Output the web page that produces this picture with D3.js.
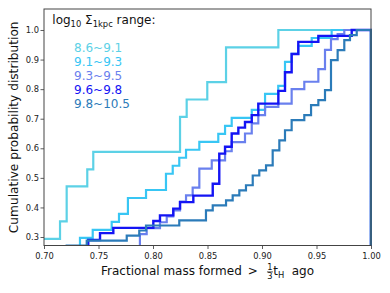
<!DOCTYPE html>
<html>
<head>
<meta charset="utf-8">
<script src="https://cdn.jsdelivr.net/npm/d3@7"></script>
<style>
  body { margin: 0; background: #fff; }
  text { font-family: 'DejaVu Sans', sans-serif; white-space: pre; }
</style>
</head>
<body>
<svg id="chart" width="390" height="293"></svg>
<script>
// log10 Sigma_1kpc bins
var categories = ['8.6~9.1', '9.1~9.3', '9.3~9.5', '9.6~9.8', '9.8~10.5'];
var colors = ['#5cd1e6', '#38c6f4', '#6a80ee', '#1414f4', '#2b7bb9'];

var xTicks = [0.70, 0.75, 0.80, 0.85, 0.90, 0.95, 1.00];
var yTicks = [0.3, 0.4, 0.5, 0.6, 0.7, 0.8, 0.9, 1.0];

// step edges (fractional mass) and cumulative fraction after each step
var s1Edges = [0.690, 0.7147, 0.7208, 0.7397, 0.7452, 0.8248, 0.8309, 0.8498, 0.8670, 0.9150];
var s1Cum   = [0.294, 0.353, 0.471, 0.529, 0.588, 0.706, 0.765, 0.824, 0.941, 1.0];

var s2Edges = [0.733, 0.7447, 0.7621, 0.7688, 0.777, 0.7936, 0.8119, 0.8181, 0.8241, 0.8303, 0.8425, 0.8599,
               0.8661, 0.8722, 0.8906, 0.9028, 0.9149, 0.9211, 0.9272, 0.9333, 0.9456, 0.9639];
var s2Cum   = [0.297, 0.324, 0.351, 0.378, 0.432, 0.459, 0.514, 0.541, 0.568, 0.595, 0.622, 0.649,
               0.676, 0.703, 0.730, 0.784, 0.811, 0.892, 0.919, 0.946, 0.973, 1.0];

var s3Edges = [0.788, 0.7942, 0.8064, 0.8126, 0.8186, 0.8248, 0.8303, 0.8364, 0.8425, 0.8539, 0.8661, 0.8722,
               0.8844, 0.8906, 0.8966, 0.9028, 0.915, 0.9272, 0.9388, 0.9517, 0.9578, 0.9633, 0.9694, 0.9755];
var s3Cum   = [0.31, 0.33, 0.35, 0.37, 0.39, 0.42, 0.441, 0.467, 0.531, 0.559, 0.59, 0.621,
               0.65, 0.684, 0.712, 0.74, 0.751, 0.80, 0.825, 0.868, 0.933, 0.969, 0.986, 1.0];

var s4Edges = [0.7406, 0.7514, 0.7636, 0.8003, 0.8064, 0.8186, 0.8248, 0.837, 0.8548, 0.8608, 0.8661,
               0.8722, 0.8783, 0.8844, 0.8906, 0.8966, 0.915, 0.9211, 0.9272, 0.9333, 0.9517, 0.9823];
var s4Cum   = [0.29, 0.313, 0.331, 0.354, 0.373, 0.396, 0.418, 0.44, 0.48, 0.582, 0.605,
               0.65, 0.67, 0.689, 0.712, 0.751, 0.794, 0.857, 0.919, 0.96, 0.98, 1.0];

var s5Edges = [0.7208, 0.7392, 0.7759, 0.7874, 0.7936, 0.8241, 0.8486, 0.8548, 0.867, 0.8731, 0.8792, 0.8853,
               0.8915, 0.8975, 0.9037, 0.9098, 0.9159, 0.9211, 0.9272, 0.9388, 0.945, 0.9517, 0.9578, 0.9633,
               0.9694, 0.9755, 0.9807, 0.9869];
var s5Cum   = [0.271, 0.288, 0.305, 0.322, 0.339, 0.356, 0.390, 0.407, 0.424, 0.441, 0.458, 0.475,
               0.508, 0.525, 0.542, 0.593, 0.627, 0.661, 0.695, 0.712, 0.746, 0.763, 0.797, 0.898,
               0.932, 0.966, 0.983, 1.0];

var edges = [s1Edges, s2Edges, s3Edges, s4Edges, s5Edges];
var cums = [s1Cum, s2Cum, s3Cum, s4Cum, s5Cum];

var svg = d3.select('#chart');

var x = d3.scaleLinear().domain([0.70, 1.00]).range([44, 371]);
var y = d3.scaleLinear().domain([0.2713, 1.071]).range([245.5, 9]);

svg.append('clipPath')
  .attr('id', 'plotclip')
  .append('rect')
  .attr('x', 44).attr('y', 9)
  .attr('width', 328).attr('height', 236.5);

var line = d3.line()
  .x(function(d) { return x(d[0]); })
  .y(function(d) { return y(d[1]); })
  .curve(d3.curveStepAfter);

// cumulative step histograms, closed down to zero at both ends like matplotlib
var lines = svg.append('g').attr('clip-path', 'url(#plotclip)');
categories.forEach(function(c, i) {
  var pts = [[edges[i][0], 0]];
  edges[i].forEach(function(e, j) { pts.push([e, cums[i][j]]); });
  pts.push([1.0, 1.0]);
  pts.push([1.0, 0]);
  lines.append('path')
    .attr('d', line(pts))
    .attr('fill', 'none')
    .attr('stroke', colors[i])
    .attr('stroke-width', i === 3 ? 2.4 : 2.2)
    .attr('stroke-linejoin', 'miter');
});

// axes
var xAxis = svg.append('g')
  .attr('transform', 'translate(0,245.5)')
  .call(d3.axisBottom(x).tickValues(xTicks).tickFormat(d3.format('.2f')).tickSize(3.5).tickPadding(3.9));
var yAxis = svg.append('g')
  .attr('transform', 'translate(44,0)')
  .call(d3.axisLeft(y).tickValues(yTicks).tickFormat(d3.format('.1f')).tickSize(3.5).tickPadding(1.5));

[xAxis, yAxis].forEach(function(a) {
  a.select('.domain').remove();
  a.selectAll('line').attr('stroke', '#333').attr('stroke-width', 0.8);
  a.selectAll('text')
    .attr('font-size', 8.3)
    .attr('fill', '#222')
    .style('font-family', "'DejaVu Sans', sans-serif");
});

// frame
svg.append('rect')
  .attr('x', 44).attr('y', 9)
  .attr('width', 327).attr('height', 236.5)
  .attr('fill', 'none')
  .attr('stroke', '#444')
  .attr('stroke-width', 1);

// legend
var title = svg.append('text').attr('x', 52.3).attr('y', 24).attr('font-size', 12).attr('fill', '#111');
title.append('tspan').text('log');
title.append('tspan').attr('font-size', 8.4).attr('dy', 2.6).text('10');
title.append('tspan').attr('dy', -2.6).text(' \u03a3');
title.append('tspan').attr('font-size', 8.4).attr('dy', 2.6).text('1kpc');
title.append('tspan').attr('dy', -2.6).text(' range:');

svg.selectAll('.leg')
  .data(categories)
  .enter().append('text')
  .attr('class', 'leg')
  .attr('x', 74)
  .attr('y', function(d, i) { return 52 + i * 13.9; })
  .attr('font-size', 12)
  .attr('fill', function(d, i) { return colors[i]; })
  .text(function(d) { return d; });

// y label
svg.append('text')
  .attr('transform', 'translate(18,127.3) rotate(-90)')
  .attr('text-anchor', 'middle')
  .attr('font-size', 12.2)
  .attr('fill', '#111')
  .text('Cumulative probability distribution');

// x label: Fractional mass formed > 1/3 t_H ago
var xl = svg.append('g');
var t1 = xl.append('text').attr('x', 0).attr('y', 275).attr('font-size', 12).attr('fill', '#111')
  .text('Fractional mass formed');
var w1 = t1.node().getComputedTextLength();
xl.append('text').attr('x', w1 + 6).attr('y', 275).attr('font-size', 12).attr('fill', '#111').text('>');
var fc = w1 + 28.2;
xl.append('text').attr('x', fc).attr('y', 270.3).attr('font-size', 8.3).attr('text-anchor', 'middle')
  .attr('fill', '#111').text('1');
xl.append('line').attr('x1', fc - 3).attr('x2', fc + 3).attr('y1', 271.9).attr('y2', 271.9)
  .attr('stroke', '#111').attr('stroke-width', 0.7);
xl.append('text').attr('x', fc).attr('y', 279.3).attr('font-size', 8.3).attr('text-anchor', 'middle')
  .attr('fill', '#111').text('3');
var tH = xl.append('text').attr('x', w1 + 31.5).attr('y', 275).attr('font-size', 12).attr('fill', '#111');
tH.append('tspan').text('t');
tH.append('tspan').attr('font-size', 8.4).attr('dy', 2.5).text('H');
var ago = xl.append('text').attr('x', w1 + 49.9).attr('y', 275).attr('font-size', 12).attr('fill', '#111')
  .text('ago');
var total = w1 + 49.9 + ago.node().getComputedTextLength();
xl.attr('transform', 'translate(' + (207.5 - total / 2) + ',0)');
</script>
</body>
</html>
